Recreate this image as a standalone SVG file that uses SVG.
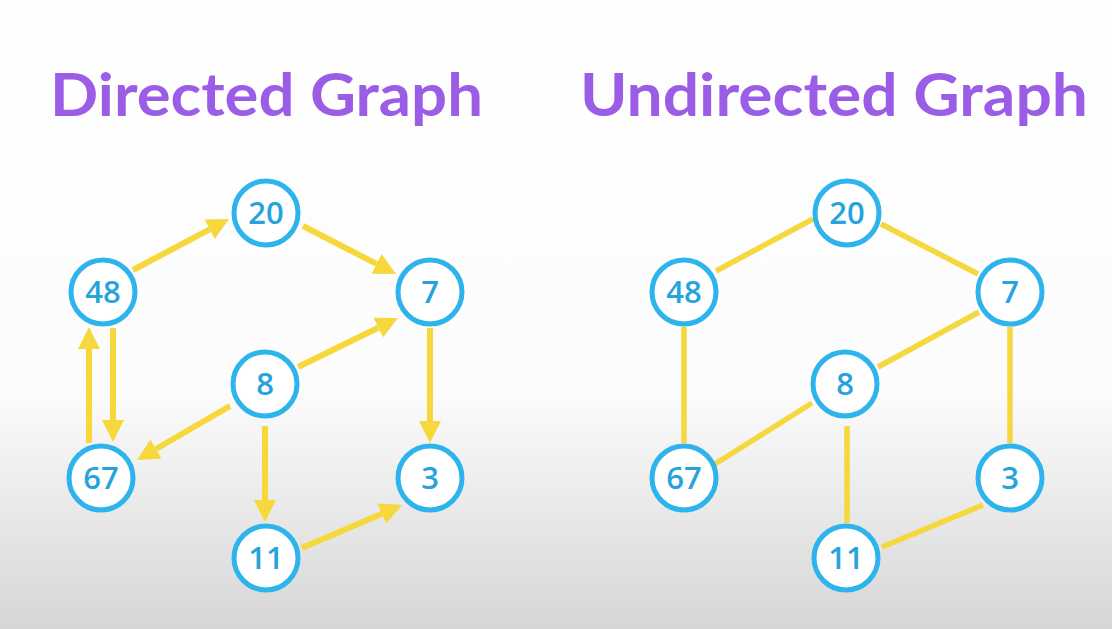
<svg xmlns="http://www.w3.org/2000/svg" width="1112" height="629" viewBox="0 0 1112 629">
  <defs>
    <linearGradient id="bg" x1="0" y1="0" x2="0" y2="1">
      <stop offset="0" stop-color="#ffffff"/>
      <stop offset="0.62" stop-color="#fcfcfc"/>
      <stop offset="0.76" stop-color="#eeeeee"/>
      <stop offset="1" stop-color="#d6d6d6"/>
    </linearGradient>
    <marker id="arrow" markerUnits="userSpaceOnUse" markerWidth="24" markerHeight="24" viewBox="0 -12 24 24" refX="0" refY="0" orient="auto">
      <path d="M0,-11 L22,0 L0,11 Z" fill="#f7d83c"/>
    </marker>
  </defs>
  <style>
    .title { font-family: Lato, "Open Sans", sans-serif; font-weight: 700; font-size: 59px; fill: #9b5de5; }
    .edge { stroke: #f7d83c; stroke-width: 6; fill: none; }
    .uedge { stroke: #f5d73e; stroke-width: 5.5; fill: none; }
    .node circle { fill: #ffffff; stroke: #2db4ec; stroke-width: 5; }
    .node text { font-family: "Open Sans", Lato, sans-serif; font-weight: 600; font-size: 31px; fill: #27a3db; text-anchor: middle; }
  </style>
  <rect x="0" y="0" width="1112" height="629" fill="url(#bg)"/>

  <text class="title" x="50" y="116" textLength="433" lengthAdjust="spacingAndGlyphs">Directed Graph</text>
  <text class="title" x="580" y="116" textLength="508" lengthAdjust="spacingAndGlyphs">Undirected Graph</text>

  <g id="connectors">
    <!-- directed -->
    <line class="edge" x1="133" y1="270" x2="209.6" y2="229.3" marker-end="url(#arrow)"/>
    <line class="edge" x1="303" y1="226" x2="376.5" y2="263.9" marker-end="url(#arrow)"/>
    <line class="edge" x1="298" y1="367" x2="378.2" y2="327.7" marker-end="url(#arrow)"/>
    <line class="edge" x1="430" y1="328" x2="430" y2="421" marker-end="url(#arrow)"/>
    <line class="edge" x1="230" y1="406" x2="156" y2="449" marker-end="url(#arrow)"/>
    <line class="edge" x1="113" y1="328" x2="113" y2="420" marker-end="url(#arrow)"/>
    <line class="edge" x1="89" y1="443" x2="89" y2="349" marker-end="url(#arrow)"/>
    <line class="edge" x1="265" y1="426" x2="265" y2="500" marker-end="url(#arrow)"/>
    <line class="edge" x1="302" y1="548" x2="381.8" y2="513.7" marker-end="url(#arrow)"/>
    <!-- undirected -->
    <line class="uedge" x1="716" y1="271" x2="813" y2="219"/>
    <line class="uedge" x1="881" y1="224" x2="978" y2="274"/>
    <line class="uedge" x1="878" y1="367" x2="979" y2="312"/>
    <line class="uedge" x1="1010" y1="327" x2="1010" y2="443"/>
    <line class="uedge" x1="684" y1="327" x2="684" y2="443"/>
    <line class="uedge" x1="715" y1="464" x2="812" y2="403"/>
    <line class="uedge" x1="847" y1="426" x2="847" y2="523"/>
    <line class="uedge" x1="882" y1="547" x2="983" y2="505"/>
  </g>

  <g id="d-20" class="node"><circle cx="266" cy="213" r="32"/><text x="266" y="224">20</text></g>
  <g id="d-48" class="node"><circle cx="103" cy="292" r="32"/><text x="103" y="303">48</text></g>
  <g id="d-7" class="node"><circle cx="430" cy="292" r="32"/><text x="430" y="303">7</text></g>
  <g id="d-8" class="node"><circle cx="265" cy="384" r="32"/><text x="265" y="395">8</text></g>
  <g id="d-67" class="node"><circle cx="101" cy="478" r="32"/><text x="101" y="489">67</text></g>
  <g id="d-3" class="node"><circle cx="430" cy="478" r="32"/><text x="430" y="489">3</text></g>
  <g id="d-11" class="node"><circle cx="266" cy="558" r="32"/><text x="266" y="569">11</text></g>

  <g id="u-20" class="node"><circle cx="847" cy="213" r="32"/><text x="847" y="224">20</text></g>
  <g id="u-48" class="node"><circle cx="684" cy="292" r="32"/><text x="684" y="303">48</text></g>
  <g id="u-7" class="node"><circle cx="1010" cy="292" r="32"/><text x="1010" y="303">7</text></g>
  <g id="u-8" class="node"><circle cx="845" cy="384" r="32"/><text x="845" y="395">8</text></g>
  <g id="u-67" class="node"><circle cx="684" cy="478" r="32"/><text x="684" y="489">67</text></g>
  <g id="u-3" class="node"><circle cx="1010" cy="478" r="32"/><text x="1010" y="489">3</text></g>
  <g id="u-11" class="node"><circle cx="846" cy="558" r="32"/><text x="846" y="569">11</text></g>
</svg>
